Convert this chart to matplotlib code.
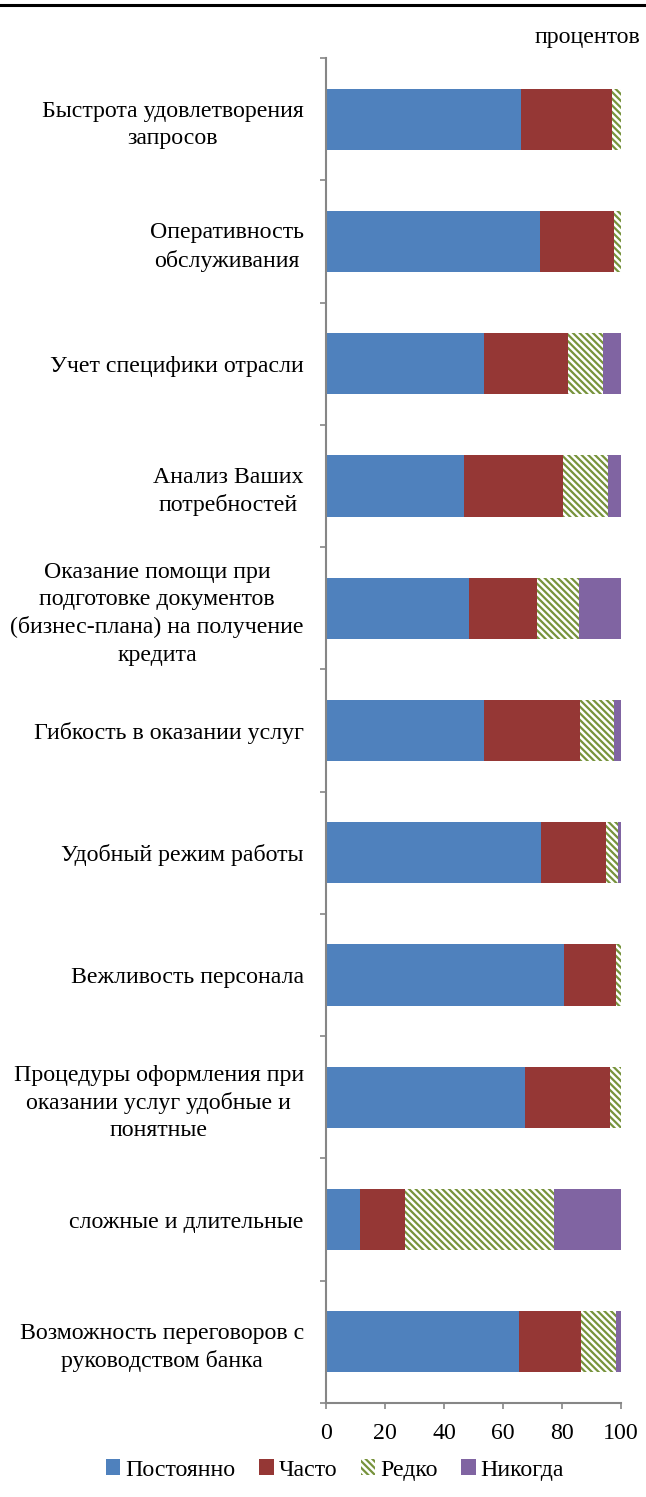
import numpy as np
import matplotlib.pyplot as plt

plt.rcParams['font.family'] = ['Liberation Serif', 'DejaVu Serif']
plt.rcParams['hatch.linewidth'] = 1.6

categories = [
    'Быстрота удовлетворения\nзапросов',
    'Оперативность\nобслуживания',
    'Учет специфики отрасли',
    'Анализ Ваших\nпотребностей',
    'Оказание помощи при\nподготовке документов\n(бизнес-плана) на получение\nкредита',
    'Гибкость в оказании услуг',
    'Удобный режим работы',
    'Вежливость персонала',
    'Процедуры оформления при\nоказании услуг удобные и\nпонятные',
    'сложные и длительные',
    'Возможность переговоров с\nруководством банка',
]
postoyanno = [66.0, 72.7, 53.7, 46.9, 48.6, 53.6, 72.9, 80.8, 67.6, 11.6, 65.5]
chasto = [31.0, 25.0, 28.2, 33.4, 23.0, 32.5, 22.0, 17.6, 28.7, 15.2, 20.9]
redko = [3.0, 2.3, 12.0, 15.3, 14.2, 11.4, 4.0, 1.6, 3.7, 50.4, 11.9]
nikogda = [0.0, 0.0, 6.1, 4.4, 14.2, 2.5, 1.1, 0.0, 0.0, 22.8, 1.7]
series_names = ['Постоянно', 'Часто', 'Редко', 'Никогда']
xticks = [0, 20, 40, 60, 80, 100]

fs = 17.2
fig = plt.figure(figsize=(6.46, 14.97), dpi=100)
ax = fig.add_axes([326/646, 1-1403/1497, 295/646, (1403-58)/1497])

y = np.arange(len(categories))
left = np.zeros(len(categories))
data = [postoyanno, chasto, redko, nikogda]
colors = ['#4F81BD', '#953735', '#77933C', '#8064A2']
for name, vals, c in zip(series_names, data, colors):
    vals = np.array(vals)
    if name == 'Редко':
        ax.barh(y, vals, left=left, height=0.5, color='white', edgecolor=c,
                linewidth=0, hatch='\\\\\\\\\\', label=name)
    else:
        ax.barh(y, vals, left=left, height=0.5, color=c, linewidth=0, label=name)
    left += vals

ax.set_xlim(0, 100)
ax.set_ylim(len(categories)-0.5, -0.5)
ax.set_xticks(xticks)
ax.set_yticks(y)
ax.set_yticklabels(categories, fontsize=fs)
for t in ax.get_yticklabels():
    t.set_multialignment('center')
    t.set_linespacing(1.38)
ax.set_yticks(np.arange(len(categories)+1)-0.5, minor=True)
ax.tick_params(axis='y', which='major', length=0, pad=16)
ax.tick_params(axis='y', which='minor', length=4.5, width=1.2, color='#868686')
ax.tick_params(axis='x', length=4.5, width=1.2, color='#868686', labelsize=fs, pad=10)
for s in ['top', 'right']:
    ax.spines[s].set_visible(False)
for s in ['left', 'bottom']:
    ax.spines[s].set_color('#868686')
    ax.spines[s].set_linewidth(1.5)

fig.text(640/646, 1-38/1497, 'процентов', ha='right', va='center', fontsize=fs)
fig.add_artist(plt.Line2D([0, 1], [1-5/1497, 1-5/1497], color='black', linewidth=2.2))

fig.legend(loc='center', bbox_to_anchor=(335/646, 1-1470/1497), ncol=4, frameon=False,
           fontsize=fs, handlelength=0.6, handleheight=0.6, handletextpad=0.2,
           columnspacing=1.0)

fig.savefig('out.png', dpi=100)
